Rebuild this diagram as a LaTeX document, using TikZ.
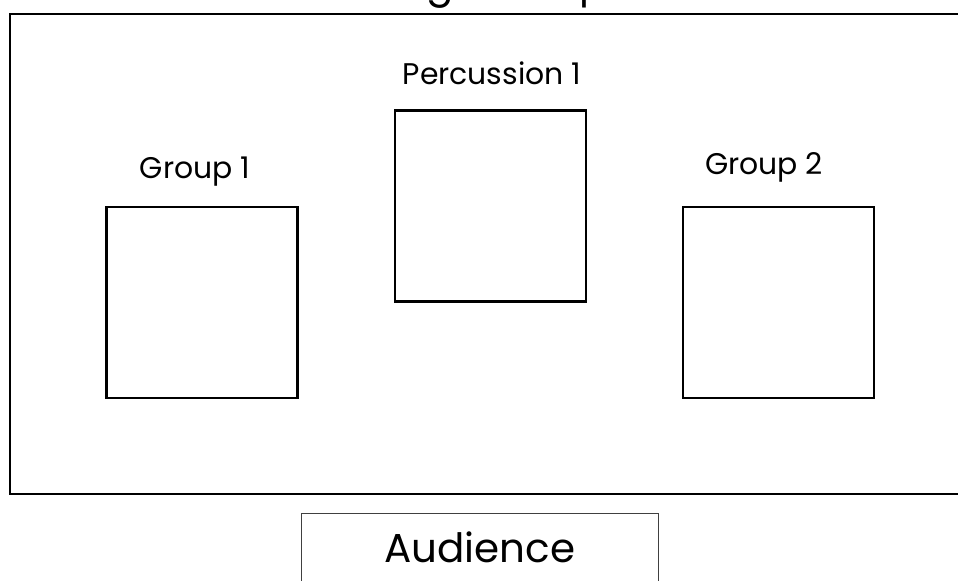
\documentclass[tikz,border=0pt]{standalone}
\usepackage{fontspec}
\setmainfont{Poppins}
\usepackage{tikz}
\usetikzlibrary{positioning}
\tikzset{stagebox/.style={draw=black,line width=1.4pt},groupbox/.style={draw=black,line width=1.4pt,minimum width=3.82cm,minimum height=3.82cm,inner sep=0pt},lbl/.style={font=\fontsize{17}{20}\selectfont,inner sep=0pt},audbox/.style={draw=black!75,line width=0.6pt,minimum width=7.16cm,minimum height=1.38cm,font=\fontsize{23}{28}\selectfont}}

\begin{document}
\begin{tikzpicture}[x=0.02cm,y=-0.02cm]
\useasboundingbox (0,0) rectangle (958,581);
\clip (0,0) rectangle (958,581);
\node[font=\fontsize{23}{28}\selectfont,anchor=base,inner sep=0pt] (title) at (484,-2) {Stage Setup};
\draw[stagebox] (10,14) rectangle (975,494);
\node[groupbox] (g1) at (202,302.5) {};
\node[groupbox] (perc) at (490.5,206) {};
\node[groupbox] (g2) at (778.5,302.5) {};
\node[lbl] (g1l) at (195,172) {Group 1};
\node[lbl] (percl) at (492,73) {Percussion 1};
\node[lbl] (g2l) at (764,167) {Group 2};
\node[audbox,anchor=north] (aud) at (480,512.5) {Audience};
\end{tikzpicture}
\end{document}
